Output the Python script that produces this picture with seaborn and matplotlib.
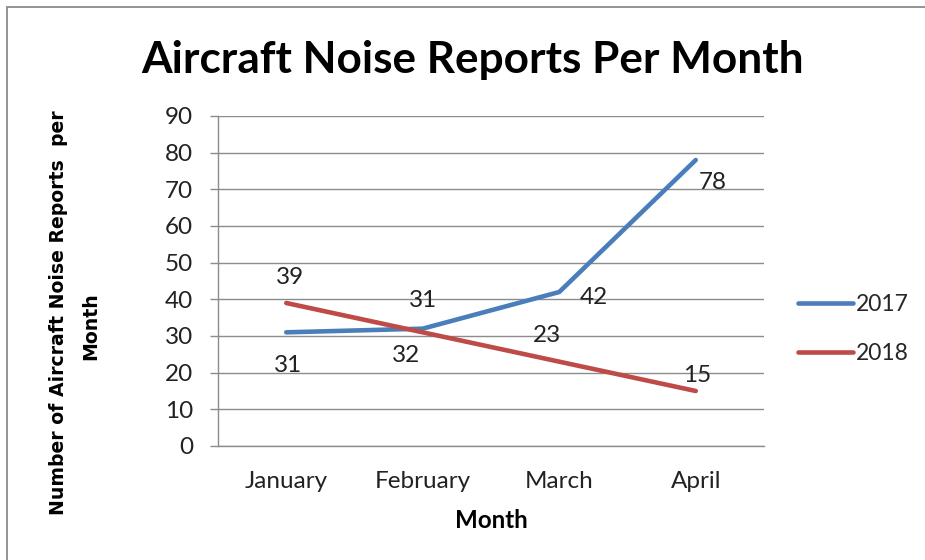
import matplotlib
matplotlib.use("Agg")
import matplotlib.pyplot as plt
import seaborn as sns
import pandas as pd
from matplotlib.patches import Rectangle

# Monthly noise report counts
months = ["January", "February", "March", "April"]
reports_2017 = [31, 32, 42, 78]
reports_2018 = [39, 31, 23, 15]
series_names = ["2017", "2018"]
y_ticks = [0, 10, 20, 30, 40, 50, 60, 70, 80, 90]

colors = {"2017": "#4A7EBB", "2018": "#BE4B48"}
label_size = 17.5

df = pd.DataFrame({
    "Month": months * 2,
    "Reports": reports_2017 + reports_2018,
    "Year": [series_names[0]] * len(months) + [series_names[1]] * len(months),
})

sns.set_theme(style="white")
plt.rcParams["font.family"] = ["Lato", "DejaVu Sans"]

fig = plt.figure(figsize=(9.25, 5.6), dpi=100)
ax = fig.add_axes([218 / 925, 1 - 446 / 560, (764 - 218) / 925, (446 - 116) / 560])

sns.lineplot(data=df, x="Month", y="Reports", hue="Year", palette=colors,
             linewidth=3.3, sort=False, ax=ax, legend=True)
for line in ax.get_lines():
    line.set_solid_capstyle("round")

# Axis ranges and ticks (category ticks sit between the months)
ax.set_xlim(-0.5, len(months) - 0.5)
ax.set_ylim(0, 90)
ax.set_yticks(y_ticks)
ax.set_yticklabels([str(v) for v in y_ticks], fontsize=label_size, color="#222222")
ax.set_xticks([i - 0.5 for i in range(len(months) + 1)])
ax.set_xticklabels([""] * (len(months) + 1))
ax.set_xticks(range(len(months)), minor=True)
ax.set_xticklabels(months, minor=True, fontsize=label_size, color="#222222")
ax.tick_params(axis="x", which="major", length=7, width=1, color="#8c8c8c", direction="out")
ax.tick_params(axis="x", which="minor", length=0, pad=18)
ax.tick_params(axis="y", which="major", length=5.8, width=1, color="#8c8c8c",
               direction="out", left=True, pad=12)

ax.yaxis.grid(True, color="#8c8c8c", linewidth=1.0)
ax.xaxis.grid(False)
for side in ["top", "right"]:
    ax.spines[side].set_visible(False)
for side in ["left", "bottom"]:
    ax.spines[side].set_color("#8c8c8c")
    ax.spines[side].set_linewidth(1.0)

ax.set_xlabel("")
ax.set_ylabel("")

# Data labels with per-point offsets (points)
offsets_2017 = [(1, -24), (-12, -19), (25, -4), (12, -16)]
offsets_2018 = [(3, 18), (0, 23), (-9, 19), (1, 11)]
for i, v in enumerate(reports_2017):
    ax.annotate(str(v), (i, v), xytext=offsets_2017[i], textcoords="offset points",
                ha="center", va="center", fontsize=label_size, color="#222222")
for i, v in enumerate(reports_2018):
    ax.annotate(str(v), (i, v), xytext=offsets_2018[i], textcoords="offset points",
                ha="center", va="center", fontsize=label_size, color="#222222")

# Legend to the right of the plot area
handles, labels = ax.get_legend_handles_labels()
leg = ax.legend(handles, labels, loc="center left", bbox_to_anchor=(789 / 925, 1 - 329 / 560),
                bbox_transform=fig.transFigure, frameon=False, fontsize=16.5,
                handlelength=2.4, handletextpad=0.12, labelspacing=1.18, borderaxespad=0)
for h in leg.get_lines():
    h.set_linewidth(3.3)
    h.set_solid_capstyle("round")

# Titles
fig.text(473 / 925, 1 - 60 / 560, "Aircraft Noise Reports Per Month",
         ha="center", va="center", fontsize=31.8, fontweight="bold", color="#000000")
fig.text(491 / 925, 1 - 520 / 560, "Month", ha="center", va="center",
         fontsize=17.4, fontweight="bold", color="#000000")
fig.text(59 / 925, 1 - 313 / 560, "Number of Aircraft Noise Reports  per",
         ha="center", va="center", rotation=90, fontsize=13.6, fontweight="bold",
         color="#000000", family=["DejaVu Sans"])
fig.text(91 / 925, 1 - 326 / 560, "Month", ha="center", va="center",
         rotation=90, fontsize=13.6, fontweight="bold", color="#000000",
         family=["DejaVu Sans"])

# Outer chart frame
fig.patches.append(Rectangle((7 / 925, -0.1), 1.2, 1.1 - 7 / 560, transform=fig.transFigure,
                             fill=False, edgecolor="#8a8a8a", linewidth=1.3))

fig.savefig("out.png", dpi=100)
